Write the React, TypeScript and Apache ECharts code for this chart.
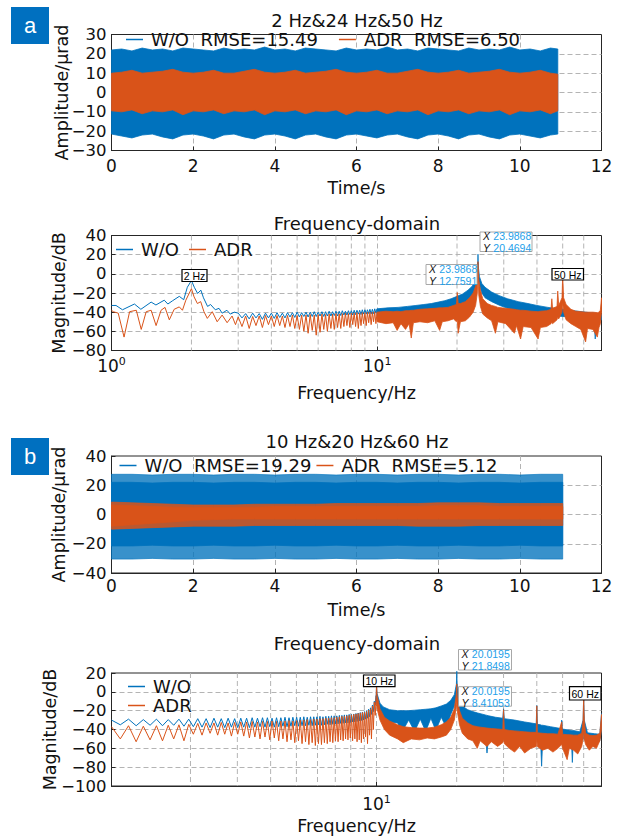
import React, { useEffect, useRef } from 'react';
import * as echarts from 'echarts';

const BLUE = '#0072BD';
const ORANGE = '#D95319';
const FONT = 'DejaVu Sans';
const TIPFONT = 'Liberation Sans';
const INK = '#111111';
const AXIS = '#262626';
const GRIDC = '#b4b4b4';

// ---------- Panel a, time domain: envelopes of the dense waveform ----------
const aTime = [0, 0.25, 0.5, 0.75, 1, 1.25, 1.5, 1.75, 2, 2.25, 2.5, 2.75, 3, 3.25, 3.5, 3.75, 4, 4.25, 4.5, 4.75, 5, 5.25, 5.5, 5.75, 6, 6.25, 6.5, 6.75, 7, 7.25, 7.5, 7.75, 8, 8.25, 8.5, 8.75, 9, 9.25, 9.5, 9.75, 10, 10.25, 10.5, 10.75, 10.93];
const aWoUp = [22, 22.5, 21.5, 23, 22, 22.5, 21.5, 23, 22.5, 22, 21.5, 23, 22, 22.5, 22, 23.5, 22, 22.5, 21.5, 23, 22.5, 22, 21.5, 23, 22, 22.5, 22, 23.5, 22, 22.5, 21.5, 23, 22.5, 22, 21.5, 23, 22, 22.5, 22, 23.5, 22, 22.5, 21.5, 23, 22.5];
const aWoLo = [-21.5, -22.5, -23.5, -22, -21.5, -23, -24, -22, -21.5, -22.5, -24, -22, -21.5, -23, -24, -22, -21.5, -22.5, -24, -22, -21.5, -23, -24, -22, -21.5, -22.5, -23.5, -22, -21.5, -23, -24, -22, -21.5, -22.5, -24, -22, -21.5, -23, -24, -22, -21.5, -22.5, -23.5, -22, -21.5];
const aAdrUp = [10, 10.5, 11.5, 10, 10.5, 11, 12, 10.5, 10, 10.5, 11.5, 10, 10, 11, 12, 10.5, 10, 10.5, 11.5, 10, 10.5, 11, 12, 10.5, 10, 10.5, 11.5, 10, 10, 11, 12, 10.5, 10, 10.5, 11.5, 10, 10.5, 11, 12, 10.5, 10, 10.5, 11.5, 10, 9.5];
const aAdrLo = [-9.5, -10, -9, -11, -9.5, -10, -9, -11.5, -9.5, -10, -9, -11, -9.5, -10, -9, -11.5, -9.5, -10, -9, -11, -9.5, -10, -9, -11.5, -9.5, -10, -9, -11, -9.5, -10, -9, -11.5, -9.5, -10, -9, -11, -9.5, -10, -9, -11.5, -9.5, -10, -9, -11, -9.5];

// ---------- Panel b, time domain ----------
const bTime = [0, 0.5, 1, 1.5, 2, 2.5, 3, 3.5, 4, 4.5, 5, 5.5, 6, 6.5, 7, 7.5, 8, 8.5, 9, 9.5, 10, 10.5, 11, 11.05];
const bWoOutUp = [27.5, 27.5, 27, 27.5, 27.5, 27, 27.5, 27.5, 27, 27.5, 27.5, 27, 27.5, 27.5, 27, 27.5, 27.5, 27, 27.5, 27.5, 27, 27.5, 27.5, 27.5];
const bWoOutLo = [-30.5, -30.5, -30, -30.5, -30.5, -30, -30.5, -30.5, -30, -30.5, -30.5, -30, -30.5, -30.5, -30, -30.5, -30.5, -30, -30.5, -30.5, -30, -30.5, -30.5, -30.5];
const bWoInUp = [22, 22, 21.5, 22, 22, 21.5, 22, 22, 21.5, 22, 22, 21.5, 22, 22, 21.5, 22, 22, 21.5, 22, 22, 21.5, 22, 22, 22];
const bWoInLo = [-21.5, -21.5, -21, -21.5, -21.5, -21, -21.5, -21.5, -21, -21.5, -21.5, -21, -21.5, -21.5, -21, -21.5, -21.5, -21, -21.5, -21.5, -21, -21.5, -21.5, -21.5];
const bAdrOutUp = [8.5, 8, 7.5, 7, 6.5, 6.5, 6.5, 7, 7, 7, 7, 7.5, 7.5, 7.5, 7.5, 7.5, 8, 8, 8, 7.5, 7.5, 7.5, 7.5, 7.5];
const bAdrOutLo = [-10, -9.5, -9, -8.5, -8, -8, -8, -7.5, -7.5, -7.5, -7.5, -7.5, -7.5, -7.5, -7.5, -8, -8, -8, -7.5, -7.5, -7.5, -7.5, -7.5, -7.5];
const bAdrInUp = [6.5, 6, 5.5, 5, 5, 5, 5, 5, 5.5, 5.5, 5.5, 5.5, 5.5, 5.5, 5.5, 5.5, 6, 6, 6, 5.5, 5.5, 5.5, 5.5, 5.5];
const bAdrInLo = [-8, -7, -6, -5, -4, -3.5, -3, -3, -3, -3, -3, -3, -3, -3, -3, -3, -3, -3, -3, -3, -3, -3, -3, -3];

// ---------- Panel a, spectrum ----------
const aWoLow = [[1.0, -33], [1.04, -33], [1.1, -37.5], [1.22, -31.5], [1.29, -37], [1.41, -29.5], [1.47, -32.5], [1.58, -27.5], [1.63, -31.5], [1.7, -28], [1.8, -23.5], [1.87, -27], [1.93, -14], [2.0, -7], [2.05, -14], [2.11, -20.5], [2.17, -17], [2.22, -25], [2.3, -34], [2.36, -32], [2.46, -37.5], [2.54, -36], [2.61, -41], [2.72, -38], [2.8, -42], [2.9, -40]];
const aAdrLow = [[1.0, -38], [1.015, -39.5], [1.06, -41], [1.115, -66], [1.17, -39.5], [1.24, -38], [1.294, -58], [1.351, -39.5], [1.41, -38], [1.472, -54], [1.537, -38], [1.59, -35], [1.651, -48], [1.722, -37], [1.8, -34.5], [1.85, -38], [1.905, -27.5], [2.0, -15.5], [2.046, -24], [2.106, -31], [2.167, -29], [2.229, -39.5], [2.295, -46.5], [2.396, -39.5], [2.5, -50], [2.61, -43], [2.725, -51], [2.845, -44], [2.93, -53]];
// comb region read on the spectral bin grid (3.0 Hz, step 0.1 Hz)
const aCombStart = 3.0;
const aCombStep = 0.1;
const aWoComb = [-41, -46, -41.5, -47, -41, -46, -41.5, -47.5, -41, -46, -41, -46.5, -40.5, -45.5, -41, -46, -40.5, -45, -40.5, -45.5, -40, -45, -40.5, -44.5, -40, -45, -40, -44.5, -39.5, -44.5, -40, -44, -39.5, -44.5, -39.5, -44, -39, -44, -39.5, -43.5, -39, -44, -39, -43.5, -38.5, -43, -39, -43, -38.5, -42.5, -38.5, -43, -38, -42.5, -38, -42, -38, -42.5, -37.5, -42, -37.5, -42, -37.5, -41.5, -37, -42, -37, -41.5, -36.5, -41, -36.5];
const aAdrComb = [-45, -55, -44, -57, -44.5, -54, -44, -56, -43.5, -53, -44, -55, -43.5, -54, -44, -56, -43.5, -55, -43, -57, -43.5, -58, -43, -60, -43, -62, -42.5, -59, -43, -64, -42.5, -61, -42, -58, -42.5, -60, -42, -57, -42, -58, -41.5, -56, -42, -57, -41.5, -55, -41, -54, -41.5, -56, -41, -53, -41, -55, -40.5, -57, -41, -54, -40.5, -52, -40.5, -54, -40, -51, -40, -53, -40, -50, -39.5, -52, -40];
// dense region as [freq, upper envelope, lower envelope]
const aWoBand = [[10, -36.5, -44], [11, -35.5, -43.5], [12, -35, -43], [13, -34, -42], [14, -33, -41.5], [15, -32, -41], [16, -31, -40], [17, -29.5, -39], [18, -28, -38], [19, -26, -36.5], [20, -23.5, -34], [21, -21, -32], [22, -17, -28], [22.8, -13, -24], [23.4, -8, -18], [23.8, -2, -8], [23.95, 10, 0], [23.99, 20.47, 12], [24.05, 8, -2], [24.3, -3, -12], [24.8, -10, -20], [25.5, -14, -25], [27, -19, -29], [29, -23, -33], [31, -26, -36], [34, -29, -39], [37, -31, -41], [40, -33, -42], [44, -35, -43], [48, -36.5, -44], [50, -37, -44.5], [53, -38, -45], [57, -39, -46], [61, -40, -47], [65.5, -41, -48], [66.3, -41.5, -68], [67, -41.5, -49], [70, -42.5, -48]];
const aAdrBand = [[10, -40, -50], [10.8, -39, -52], [11.5, -39.5, -51], [11.9, -39, -59], [12.3, -39.5, -52], [12.8, -38.5, -58], [13.2, -38.5, -52], [13.45, -38, -67], [13.7, -38, -51], [14.5, -37, -50], [15.5, -36.5, -51], [16.5, -36, -49], [17.2, -35.5, -59], [17.6, -35.5, -50], [18.5, -35, -49], [19.4, -33, -47], [19.9, -32, -50], [20.05, -19.5, -48], [20.2, -31, -62], [20.6, -31, -50], [21.5, -29, -49], [22.3, -25, -45], [23.0, -20, -40], [23.5, -13, -33], [23.85, -4, -20], [23.99, 12.76, 0], [24.15, -6, -22], [24.5, -17, -34], [25.0, -26, -42], [26.0, -31, -46], [27.0, -33, -49], [27.9, -34, -62], [28.5, -35, -50], [30.5, -36, -52], [32.9, -37, -62], [33.5, -37.5, -54], [34.7, -38, -68], [35.5, -38, -55], [38.0, -39, -56], [40.4, -39.5, -68], [41.2, -39, -56], [43.5, -38.5, -55], [45.2, -37, -52], [45.5, -26, -50], [45.8, -36, -52], [47.6, -34, -48], [47.9, -18, -45], [48.3, -33, -47], [49.7, -25, -40], [50.0, -2.4, -30], [50.4, -25, -40], [51.5, -32, -48], [53.7, -37, -52], [56.0, -39, -55], [58.5, -39.5, -58], [61.0, -40, -71], [62.0, -40, -57], [65.0, -40, -58], [67.5, -40.5, -66], [68.5, -40, -56], [69.3, -38, -52], [70, -25, -40]];

// ---------- Panel b, spectrum ----------
const bCombStart = 1.01;
const bCombStep = 0.08;
const bWoComb = [-30, -35, -29, -36, -29.5, -35.5, -29, -36, -29.5, -35.5, -29, -36.5, -29, -37, -28.5, -37.5, -28.5, -38, -28, -37.5, -28.5, -38, -28, -37.5, -28.5, -38, -28, -37.5, -28, -38, -27.5, -37.5, -28, -37, -27.5, -37.5, -27.5, -37, -28, -37.5, -27.5, -37, -27.5, -36.5, -27, -37, -27.5, -36.5, -27, -36, -27, -36.5, -27, -36, -26.5, -36, -27, -35.5, -26.5, -36, -26.5, -35.5, -26.5, -35, -26, -35.5, -26.5, -35, -26, -34.5, -26, -35, -25.5, -34.5, -25.5, -34, -25.5, -34, -25, -33.5, -25, -33.5, -24.5, -33, -24.5, -33, -24, -32.5, -24, -32, -23.5, -32, -23, -31.5, -22.5, -31, -22, -30.5, -21.5, -30, -21, -29, -20, -28, -18.5, -26.5, -17, -24, -14, -21, -10, -14, -4];
const bAdrComb = [-37, -50, -36, -53, -36.5, -51, -36, -52, -35.5, -50, -35, -52, -34.5, -45, -33.5, -46, -33, -44, -33, -46, -32.5, -45, -33, -47, -32.5, -45, -32, -47, -32, -49, -31.5, -48, -32, -50, -31.5, -48, -31.5, -51, -31, -49, -31.5, -52, -31, -50, -31, -53, -30.5, -51, -31, -54, -30.5, -52, -30, -55, -30, -53, -29.5, -56, -29.5, -54, -29, -57, -29, -55, -28.5, -56, -28.5, -54, -28, -55, -28, -53, -27.5, -54, -27.5, -52, -27, -53, -26.5, -51, -26, -52, -26, -50, -25.5, -51, -25, -49, -24.5, -52, -24, -50, -23.5, -53, -23, -51, -22.5, -54, -22, -50, -21.5, -48, -21, -55, -19.5, -46, -18, -50, -15, -40, -11, -25, -4];
const bWoBand = [[9.97, -4, -10], [10.0, 7, -2], [10.05, -2, -12], [10.3, -12, -22], [10.6, -16, -28], [11.2, -19, -32], [12, -20, -33], [12.5, -20, -42], [13.2, -20, -30], [13.9, -19.5, -42], [14.6, -19, -29], [15.3, -18.5, -42], [16.0, -18, -28], [16.7, -17, -41], [17.5, -15, -27], [18.3, -13, -38], [19.0, -9, -24], [19.6, -3, -15], [19.95, 8, -5], [20.02, 21.85, 8], [20.1, 4, -8], [20.5, -10, -22], [21, -15, -30], [22, -19, -36], [23, -21, -40], [24, -22.5, -44], [25.6, -24.5, -45], [26, -25, -65], [26.4, -25.5, -45], [28, -27, -46], [29.8, -28, -46], [30.0, -18, -44], [30.2, -28.5, -47], [33, -30, -48], [36, -32, -49], [39.8, -34, -50], [40.0, -14.6, -46], [40.2, -34.5, -50], [41.3, -35, -50], [41.7, -35.5, -79], [42.1, -35.5, -50], [45, -37, -51], [49.3, -39, -52], [49.6, -30, -50], [49.9, -39.5, -52], [54, -41, -53], [54.4, -41, -75], [54.8, -41, -53], [58, -42.5, -54], [59.7, -30, -50], [60.0, -5, -35], [60.3, -30, -50], [62, -43.5, -55], [66, -44.5, -56], [69, -45, -52], [70, -23, -40]];
const bAdrBand = [[9.97, -4, -15], [10.0, 7, -5], [10.05, -4, -18], [10.3, -18, -30], [10.7, -27, -40], [11.2, -31, -46], [12.0, -35, -50], [12.6, -37, -54], [13.5, -38, -50], [14.5, -38.5, -51], [15.5, -38.5, -49], [16.5, -37.5, -50], [17.5, -35, -48], [18.3, -32, -46], [19.0, -27, -40], [19.6, -18, -30], [19.95, -2, -15], [20.02, 8.41, -5], [20.1, -6, -20], [20.5, -20, -35], [21, -28, -44], [22, -33, -50], [23, -36, -52], [23.9, -37, -60], [24.5, -37.5, -52], [26, -38.5, -58], [27, -39, -53], [28.5, -39.5, -58], [29.8, -40, -54], [30.0, -19, -50], [30.2, -40, -55], [31.5, -41, -60], [33, -41.5, -64], [34.5, -42, -58], [36, -42.5, -65], [38, -43, -60], [39.8, -43, -58], [40.0, -15, -50], [40.2, -43.5, -58], [42, -44, -62], [44, -44.5, -60], [46, -44.5, -64], [48, -45, -60], [49.6, -32, -56], [50, -45, -60], [52, -45.5, -72], [53, -45.5, -60], [55, -46, -62], [57, -46, -66], [59, -44, -58], [59.7, -30, -50], [60, -6.5, -38], [60.3, -30, -50], [61, -44, -56], [63, -46, -62], [65, -46.5, -58], [67, -46, -60], [69, -44, -52], [70, -24, -40]];

const minorFreqs = [2, 3, 4, 5, 6, 7, 8, 9, 20, 30, 40, 50, 60];

// ---------- helpers ----------
const combPts = (start: number, step: number, vals: number[]) =>
  vals.map((v, i) => [+(start + step * i).toFixed(3), v]);
const zip3 = (t: number[], up: number[], lo: number[]) => t.map((x, i) => [x, up[i], lo[i]]);
const minus = (v: number) => (v < 0 ? '\u2212' + Math.abs(v) : String(v));

function band(idx: number, knots: number[][], color: string, opacity = 1) {
  return {
    type: 'custom',
    xAxisIndex: idx,
    yAxisIndex: idx,
    data: knots,
    encode: { x: 0, y: [1, 2] },
    silent: true,
    renderItem: (p: any, api: any) => {
      if (p.dataIndex !== 0) return null;
      const top = knots.map((k) => api.coord([k[0], k[1]]));
      const bot = knots.map((k) => api.coord([k[0], k[2]])).reverse();
      return {
        type: 'polygon',
        shape: { points: top.concat(bot) },
        style: { fill: color, stroke: color, lineWidth: 0.8, opacity },
      };
    },
  };
}

function line(name: string, idx: number, pts: number[][], color: string) {
  return {
    type: 'line',
    name,
    xAxisIndex: idx,
    yAxisIndex: idx,
    data: pts,
    symbol: 'none',
    showSymbol: false,
    lineStyle: { color, width: 1 },
    itemStyle: { color },
    silent: true,
  };
}

function minorGrid(idx: number, yMin: number, yMax: number) {
  return {
    type: 'custom',
    xAxisIndex: idx,
    yAxisIndex: idx,
    data: minorFreqs.map((f) => [f, yMin, yMax]),
    encode: { x: 0, y: [1, 2] },
    silent: true,
    z: 1,
    renderItem: (p: any, api: any) => {
      const a = api.coord([api.value(0), api.value(2)]);
      const b = api.coord([api.value(0), api.value(1)]);
      return {
        type: 'line',
        shape: { x1: a[0], y1: a[1], x2: b[0], y2: b[1] },
        style: { stroke: GRIDC, lineWidth: 1, lineDash: [5, 3] },
      };
    },
  };
}

const splitLine = { show: true, showMinLine: false, showMaxLine: false, lineStyle: { color: GRIDC, type: [5, 3], width: 1 } };
const axisLine = { show: true, onZero: false, lineStyle: { color: AXIS, width: 1 } };
const axisTick = { show: true, inside: true, length: 4, lineStyle: { color: AXIS } };
const nameStyle = { fontSize: 17.5, fontFamily: FONT, color: INK };

function xTime(gi: number, margin: number, gap: number) {
  return {
    gridIndex: gi, type: 'value', min: 0, max: 12, interval: 2,
    axisLine, axisTick, splitLine,
    axisLabel: { fontSize: 17, fontFamily: FONT, color: INK, margin },
    name: 'Time/s', nameLocation: 'middle', nameGap: gap, nameTextStyle: nameStyle, nameMoveOverlap: false,
  };
}
function xFreq(gi: number, min: number, margin: number, gap: number) {
  return {
    gridIndex: gi, type: 'log', logBase: 10, min, max: 70,
    axisLine, axisTick, splitLine,
    axisLabel: {
      margin,
      formatter: (v: number) => {
        const l = Math.log10(v);
        const e = Math.round(l);
        return Math.abs(l - e) < 1e-6 ? `{b|10}{s|${e}}` : '';
      },
      rich: {
        b: { fontSize: 17, fontFamily: FONT, color: INK, lineHeight: 20 },
        s: { fontSize: 11, fontFamily: FONT, color: INK, verticalAlign: 'top' },
      },
    },
    name: 'Frequency/Hz', nameLocation: 'middle', nameGap: gap, nameTextStyle: nameStyle, nameMoveOverlap: false,
  };
}
function yAx(gi: number, min: number, max: number, interval: number, name: string, gap: number) {
  return {
    gridIndex: gi, type: 'value', min, max, interval,
    axisLine, axisTick, splitLine,
    axisLabel: { fontSize: 16.5, fontFamily: FONT, color: INK, margin: 5, formatter: minus },
    name, nameLocation: 'middle', nameGap: gap, nameTextStyle: nameStyle, nameMoveOverlap: false,
  };
}

const tipRich = {
  k: { fontStyle: 'italic', fill: '#111', fontSize: 10.5, fontFamily: TIPFONT, lineHeight: 9.5 },
  v: { fill: '#1E9FEA', fontSize: 10.5, fontFamily: TIPFONT, lineHeight: 9.5 },
};
function tip(x: number, y: number, w: number, h: number, xv: string, yv: string) {
  return [
    { type: 'rect', z: 100, shape: { x, y, width: w, height: h }, style: { fill: '#fff', stroke: '#a8a8a8', lineWidth: 1 } },
    {
      type: 'text', z: 101, x: x + 3, y: y + h / 2 + 0.3,
      style: { text: `{k|X} {v|${xv}}\n{k|Y} {v|${yv}}`, rich: tipRich, align: 'left', verticalAlign: 'middle' },
    },
  ];
}
function hzTag(x: number, y: number, w: number, h: number, label: string) {
  return [
    { type: 'rect', z: 100, shape: { x, y, width: w, height: h }, style: { fill: '#fff', stroke: '#000', lineWidth: 1.2 } },
    { type: 'text', z: 101, x: x + w / 2, y: y + h / 2 + 0.5, style: { text: label, fontSize: 10.5, fontFamily: TIPFONT, fill: '#000', align: 'center', verticalAlign: 'middle' } },
  ];
}
function title(text: string, y: number) {
  return { type: 'text', z: 100, x: 357, y, style: { text, fontSize: 18, fontFamily: FONT, fill: INK, align: 'center', verticalAlign: 'middle' } };
}
function panelTag(letter: string, y: number) {
  return [
    { type: 'rect', z: 100, shape: { x: 11, y, width: 38, height: 37 }, style: { fill: '#0070C0' } },
    { type: 'text', z: 101, x: 30, y: y + 18.5, style: { text: letter, fontSize: 22, fontFamily: TIPFONT, fill: '#fff', align: 'center', verticalAlign: 'middle' } },
  ];
}

const A_WO_LEG = 'W/O  RMSE=15.49';
const A_ADR_LEG = 'ADR  RMSE=6.50';
const B_WO_LEG = 'W/O  RMSE=19.29';
const B_ADR_LEG = 'ADR  RMSE=5.12';

function legend(data: string[], left: number, top: number, itemGap: number, orient = 'horizontal') {
  return {
    data, left, top, itemGap, orient,
    icon: 'rect', itemWidth: 17, itemHeight: 1.5, padding: 0, selectedMode: false,
    textStyle: { fontSize: 18, fontFamily: FONT, color: INK, padding: [0, 0, 0, 3] },
  };
}

function buildOption() {
  const gridBase = { show: true, borderColor: AXIS, borderWidth: 1, backgroundColor: 'transparent', containLabel: false };
  return {
    animation: false,
    backgroundColor: '#ffffff',
    grid: [
      { ...gridBase, left: 111.5, top: 34.5, width: 490, height: 116 },
      { ...gridBase, left: 111.5, top: 235.5, width: 490, height: 115 },
      { ...gridBase, left: 111.5, top: 456, width: 490, height: 117 },
      { ...gridBase, left: 111.5, top: 673, width: 490, height: 115.5 },
    ],
    xAxis: [xTime(0, 6.5, 28.5), xFreq(1, 1, 5.5, 33.5), xTime(2, 4, 28), xFreq(3, 1.01, 8, 31)],
    yAxis: [
      yAx(0, -30, 30, 10, 'Amplitude/\u03bcrad', 41),
      yAx(1, -80, 40, 20, 'Magnitude/dB', 43.5),
      yAx(2, -40, 40, 20, 'Amplitude/\u03bcrad', 43.5),
      yAx(3, -100, 20, 20, 'Magnitude/dB', 52.5),
    ],
    legend: [
      legend([A_WO_LEG, A_ADR_LEG], 126, 30.5, 21),
      legend(['W/O', 'ADR'], 116, 240.5, 10),
      legend([B_WO_LEG, B_ADR_LEG], 119.5, 456.5, 5),
      legend(['W/O', 'ADR'], 128, 677.5, 1, 'vertical'),
    ],
    series: [
      // panel a time
      line(A_WO_LEG, 0, [], BLUE),
      line(A_ADR_LEG, 0, [], ORANGE),
      band(0, zip3(aTime, aWoUp, aWoLo), BLUE),
      band(0, zip3(aTime, aAdrUp, aAdrLo), ORANGE),
      // panel a spectrum
      minorGrid(1, -80, 40),
      line('W/O', 1, [...aWoLow, ...combPts(aCombStart, aCombStep, aWoComb)], BLUE),
      band(1, aWoBand, BLUE),
      line('ADR', 1, [...aAdrLow, ...combPts(aCombStart, aCombStep, aAdrComb)], ORANGE),
      band(1, aAdrBand, ORANGE),
      // panel b time
      line(B_WO_LEG, 2, [], BLUE),
      line(B_ADR_LEG, 2, [], ORANGE),
      band(2, zip3(bTime, bWoOutUp, bWoOutLo), BLUE, 0.78),
      band(2, zip3(bTime, bWoInUp, bWoInLo), BLUE),
      band(2, zip3(bTime, bAdrOutUp, bAdrOutLo), ORANGE, 0.85),
      band(2, zip3(bTime, bAdrInUp, bAdrInLo), ORANGE),
      // panel b spectrum
      minorGrid(3, -100, 20),
      line('W/O', 3, combPts(bCombStart, bCombStep, bWoComb), BLUE),
      band(3, bWoBand, BLUE),
      line('ADR', 3, combPts(bCombStart, bCombStep, bAdrComb), ORANGE),
      band(3, bAdrBand, ORANGE),
    ],
    graphic: [
      ...panelTag('a', 7),
      ...panelTag('b', 438),
      title('2 Hz&24 Hz&50 Hz', 20.7),
      title('Frequency-domain', 223.3),
      title('10 Hz&20 Hz&60 Hz', 441.7),
      title('Frequency-domain', 643.3),
      ...hzTag(182, 269.5, 25, 12, '2 Hz'),
      ...hzTag(552, 268.5, 31.5, 11.5, '50 Hz'),
      ...tip(480, 232, 52, 19.5, '23.9868', '20.4694'),
      ...tip(426, 264.5, 51, 20, '23.9868', '12.7591'),
      ...hzTag(363.5, 675, 31.5, 11.7, '10 Hz'),
      ...tip(458.5, 649.5, 53, 20.5, '20.0195', '21.8498'),
      ...tip(458.5, 686.7, 53, 19.5, '20.0195', '8.41053'),
      ...hzTag(569.5, 686.7, 31.5, 13.3, '60 Hz'),
    ],
  };
}

export default function App() {
  const ref = useRef<HTMLDivElement>(null);
  useEffect(() => {
    if (!ref.current) return;
    const chart = echarts.init(ref.current, null, { renderer: 'svg' });
    chart.setOption(buildOption() as any);
    return () => chart.dispose();
  }, []);
  return (
    <div
      ref={ref}
      style={{ position: 'fixed', left: 0, top: 0, width: 622, height: 836, background: '#fff' }}
    />
  );
}
